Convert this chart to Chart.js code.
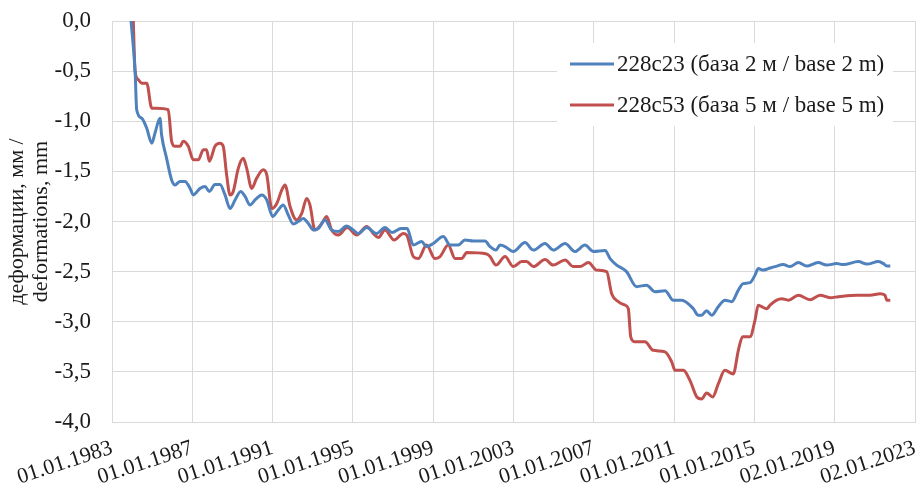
<!DOCTYPE html>
<html>
<head>
    <meta charset="utf-8" />
    <title>Deformations 228c23 / 228c53</title>
    <script src="https://cdn.jsdelivr.net/npm/chart.js@4.4.1/dist/chart.umd.min.js"></script>
    <style>
        body, html {
            background: white;
            margin: 0;
            padding: 0;
            overflow: hidden;
        }
        canvas { display: block; }
    </style>
</head>
<body>
    <canvas id="myChart" width="919" height="487"></canvas>

    <script>
        // x axis ticks (every 4 years); Excel wrote the last two as 02.01
        const tickYears = [1983, 1987, 1991, 1995, 1999, 2003, 2007, 2011, 2015, 2019, 2023];
        const tickLabels = ['01.01.1983', '01.01.1987', '01.01.1991', '01.01.1995', '01.01.1999',
            '01.01.2003', '01.01.2007', '01.01.2011', '01.01.2015', '02.01.2019', '02.01.2023'];

        const seriesLabels = ['228c23 (база 2 м / base 2 m)', '228c53 (база 5 м / base 5 m)'];

        // 228c23 (decimal year, mm)
        const blueYears = [1983.95, 1984.15, 1984.23, 1984.48, 1984.73, 1984.98, 1985.14, 1985.39, 1985.47, 1985.72,
            1985.97, 1986.14, 1986.39, 1986.64, 1986.89, 1987.05, 1987.38, 1987.63, 1987.85, 1988.13,
            1988.38, 1988.63, 1988.88, 1989.13, 1989.41, 1989.63, 1989.87, 1990.15, 1990.46, 1990.71,
            1991.0, 1991.28, 1991.53, 1991.78, 1992.03, 1992.28, 1992.53, 1992.78, 1993.03, 1993.28,
            1993.61, 1993.94, 1994.27, 1994.69, 1995.02, 1995.27, 1995.69, 1996.18, 1996.6, 1996.95,
            1997.4, 1997.7, 1998.01, 1998.42, 1998.67, 1999.0, 1999.5, 1999.84, 2000.25, 2000.58,
            2001.0, 2001.58, 2001.83, 2002.13, 2002.33, 2002.58, 2002.99, 2003.57, 2003.99, 2004.57,
            2004.98, 2005.57, 2006.06, 2006.56, 2006.98, 2007.56, 2007.81, 2008.14, 2008.63, 2009.13,
            2009.63, 2010.05, 2010.55, 2010.96, 2011.38, 2011.96, 2012.2, 2012.37, 2012.62, 2012.87,
            2013.2, 2013.53, 2013.87, 2014.2, 2014.44, 2014.78, 2015.03, 2015.19, 2015.44, 2015.69,
            2016.03, 2016.44, 2016.77, 2017.19, 2017.6, 2018.18, 2018.6, 2019.1, 2019.43, 2020.18,
            2020.6, 2021.18, 2021.43, 2021.6, 2021.77];
        const blueValues = [0.0, -0.50, -0.885, -0.97, -1.07, -1.22, -1.12, -0.97, -1.135, -1.37,
            -1.585, -1.635, -1.60, -1.60, -1.67, -1.735, -1.67, -1.65, -1.70, -1.63,
            -1.63, -1.735, -1.87, -1.785, -1.70, -1.75, -1.835, -1.78, -1.735, -1.785,
            -1.95, -1.885, -1.835, -1.935, -2.025, -2.0, -1.97, -2.02, -2.085, -2.07,
            -1.985, -2.085, -2.10, -2.045, -2.085, -2.12, -2.06, -2.12, -2.06, -2.11,
            -2.07, -2.07, -2.235, -2.20, -2.25, -2.22, -2.15, -2.235, -2.235, -2.185,
            -2.195, -2.195, -2.25, -2.285, -2.235, -2.25, -2.30, -2.21, -2.285, -2.22,
            -2.285, -2.22, -2.30, -2.235, -2.30, -2.29, -2.37, -2.435, -2.50, -2.65,
            -2.635, -2.70, -2.69, -2.785, -2.785, -2.87, -2.935, -2.935, -2.89, -2.935,
            -2.85, -2.785, -2.80, -2.685, -2.62, -2.61, -2.535, -2.47, -2.485, -2.47,
            -2.45, -2.43, -2.45, -2.41, -2.445, -2.41, -2.435, -2.42, -2.43, -2.40,
            -2.425, -2.40, -2.42, -2.445, -2.445];

        // 228c53
        const redYears = [1984.06, 1984.15, 1984.31, 1984.48, 1984.73, 1984.98, 1985.22, 1985.80, 1985.97, 1986.14,
            1986.39, 1986.55, 1986.8, 1987.05, 1987.3, 1987.55, 1987.71, 1987.85, 1988.13, 1988.38,
            1988.54, 1988.71, 1988.88, 1989.04, 1989.29, 1989.54, 1989.71, 1989.96, 1990.2, 1990.54,
            1990.71, 1990.96, 1991.21, 1991.46, 1991.62, 1991.87, 1992.2, 1992.45, 1992.7, 1992.86,
            1993.11, 1993.45, 1993.69, 1993.94, 1994.27, 1994.72, 1995.19, 1995.69, 1996.02, 1996.27,
            1996.6, 1997.05, 1997.51, 1997.68, 1998.01, 1998.26, 1998.67, 1999.09, 1999.34, 1999.75,
            2000.09, 2000.42, 2000.67, 2001.66, 2001.83, 2002.13, 2002.58, 2002.99, 2003.41, 2003.65,
            2003.99, 2004.57, 2004.98, 2005.57, 2005.98, 2006.31, 2006.73, 2007.14, 2007.64, 2007.89,
            2008.22, 2008.56, 2008.72, 2008.84, 2009.05, 2009.55, 2009.96, 2010.55, 2010.88, 2011.05,
            2011.46, 2011.79, 2012.13, 2012.37, 2012.62, 2012.92, 2013.2, 2013.53, 2013.95, 2014.2,
            2014.41, 2014.78, 2015.03, 2015.19, 2015.36, 2015.61, 2015.78, 2016.11, 2016.36, 2016.69,
            2017.19, 2017.77, 2018.27, 2018.77, 2019.19, 2020.1, 2020.76, 2021.26, 2021.5, 2021.6,
            2021.77];
        const redValues = [0.0, -0.50, -0.585, -0.62, -0.62, -0.87, -0.87, -0.885, -1.20, -1.25,
            -1.25, -1.20, -1.25, -1.385, -1.385, -1.285, -1.285, -1.40, -1.25, -1.22,
            -1.25, -1.535, -1.735, -1.70, -1.47, -1.37, -1.47, -1.67, -1.57, -1.485,
            -1.535, -1.87, -1.82, -1.685, -1.635, -1.85, -1.985, -1.92, -1.77, -1.835,
            -2.085, -2.02, -1.95, -2.085, -2.135, -2.06, -2.135, -2.05, -2.12, -2.16,
            -2.085, -2.185, -2.12, -2.135, -2.35, -2.37, -2.235, -2.37, -2.35, -2.235,
            -2.37, -2.37, -2.31, -2.325, -2.35, -2.435, -2.35, -2.45, -2.40, -2.40,
            -2.45, -2.38, -2.435, -2.385, -2.45, -2.45, -2.41, -2.485, -2.50, -2.72,
            -2.80, -2.835, -2.87, -3.15, -3.20, -3.20, -3.285, -3.30, -3.40, -3.485,
            -3.485, -3.585, -3.75, -3.77, -3.71, -3.75, -3.62, -3.485, -3.52, -3.285,
            -3.15, -3.15, -2.985, -2.835, -2.85, -2.87, -2.835, -2.785, -2.77, -2.785,
            -2.735, -2.78, -2.735, -2.76, -2.75, -2.735, -2.735, -2.72, -2.735, -2.785,
            -2.785];

        const FONT = '"Liberation Serif", "Times New Roman", serif';
        const TEXT = '#1a1a1a';
        const GRID = '#d9d9d9';

        // legend sits inside the plot, on a white box over the grid
        const legendBox = {
            id: 'legendBox',
            beforeDatasetsDraw(chart) {
                const ctx = chart.ctx;
                const a = chart.chartArea;
                const left = a.right - 358, top = a.top + 22;
                ctx.save();
                ctx.fillStyle = 'white';
                ctx.fillRect(left, top, 336, 83);
                ctx.font = '23px ' + FONT;
                ctx.textBaseline = 'middle';
                chart.data.datasets.forEach((ds, i) => {
                    const y = top + 21 + i * 41;
                    ctx.strokeStyle = ds.borderColor;
                    ctx.lineWidth = 3;
                    ctx.beginPath();
                    ctx.moveTo(left + 13, y);
                    ctx.lineTo(left + 57, y);
                    ctx.stroke();
                    ctx.fillStyle = TEXT;
                    ctx.fillText(ds.label, left + 60, y + 1);
                });
                ctx.restore();
            }
        };

        function toPoints(xs, ys) {
            return xs.map((x, i) => ({ x: x, y: ys[i] }));
        }

        // keep the plot box where the reference has it
        function noPadding(scale) {
            scale.paddingLeft = 0;
            scale.paddingRight = 0;
            scale.paddingTop = 0;
            scale.paddingBottom = 0;
        }

        const config = {
            type: 'line',
            data: {
                datasets: [{
                    label: seriesLabels[0],
                    data: toPoints(blueYears, blueValues),
                    borderColor: '#4F81BD',
                    borderWidth: 3,
                    pointRadius: 0,
                    fill: false,
                    cubicInterpolationMode: 'monotone'
                }, {
                    label: seriesLabels[1],
                    data: toPoints(redYears, redValues),
                    borderColor: '#C0504D',
                    borderWidth: 3,
                    pointRadius: 0,
                    fill: false,
                    cubicInterpolationMode: 'monotone'
                }]
            },
            options: {
                responsive: false,
                animation: false,
                layout: { padding: { top: 21, right: 4 } },
                scales: {
                    x: {
                        type: 'linear',
                        min: tickYears[0],
                        max: tickYears[tickYears.length - 1],
                        afterBuildTicks: (scale) => {
                            scale.ticks = tickYears.map(v => ({ value: v }));
                        },
                        afterFit: (scale) => { scale.height = 65; noPadding(scale); },
                        grid: { color: GRID, drawTicks: false },
                        border: { color: GRID },
                        ticks: {
                            autoSkip: false,
                            minRotation: 18,
                            maxRotation: 18,
                            padding: 13,
                            color: TEXT,
                            font: { family: FONT, size: 22 },
                            callback: (v) => tickLabels[tickYears.indexOf(v)]
                        }
                    },
                    y: {
                        min: -4,
                        max: 0,
                        afterFit: (scale) => { scale.width = 112; noPadding(scale); },
                        grid: { color: GRID, drawTicks: false },
                        border: { color: GRID },
                        title: {
                            display: true,
                            text: ['деформации, мм /', 'deformations, mm'],
                            color: TEXT,
                            font: { family: FONT, size: 22, lineHeight: 1.1 },
                            padding: { top: 5, bottom: 0 }
                        },
                        ticks: {
                            stepSize: 0.5,
                            padding: 21,
                            color: TEXT,
                            font: { family: FONT, size: 23 },
                            callback: (v) => v.toFixed(1).replace('.', ',')
                        }
                    }
                },
                plugins: {
                    legend: { display: false },
                    tooltip: { enabled: false }
                }
            },
            plugins: [legendBox]
        };

        const ctx = document.getElementById('myChart').getContext('2d');
        new Chart(ctx, config);
    </script>
</body>
</html>
